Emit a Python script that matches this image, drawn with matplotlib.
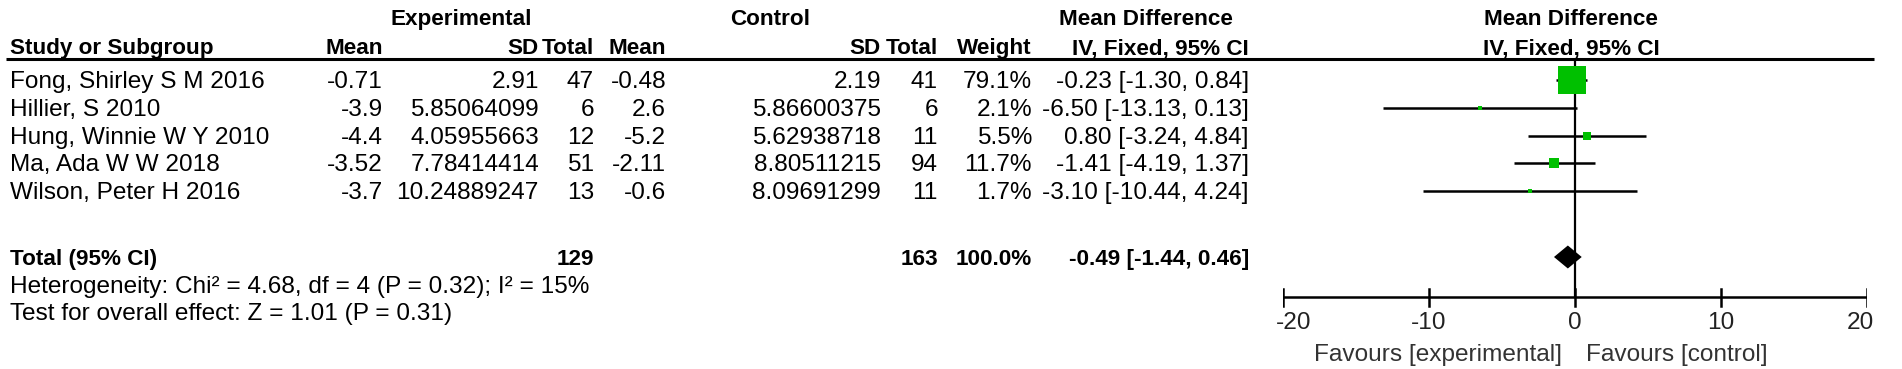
import matplotlib
matplotlib.use("Agg")
import matplotlib.pyplot as plt
import numpy as np

# ---------------- data ----------------
studies = ["Fong, Shirley S M 2016", "Hillier, S 2010", "Hung, Winnie W Y 2010",
           "Ma, Ada W W 2018", "Wilson, Peter H 2016"]
exp_mean = ["-0.71", "-3.9", "-4.4", "-3.52", "-3.7"]
exp_sd = ["2.91", "5.85064099", "4.05955663", "7.78414414", "10.24889247"]
exp_n = [47, 6, 12, 51, 13]
ctl_mean = ["-0.48", "2.6", "-5.2", "-2.11", "-0.6"]
ctl_sd = ["2.19", "5.86600375", "5.62938718", "8.80511215", "8.09691299"]
ctl_n = [41, 6, 11, 94, 11]
weights = [79.1, 2.1, 5.5, 11.7, 1.7]
md = [-0.23, -6.50, 0.80, -1.41, -3.10]
ci_lo = [-1.30, -13.13, -3.24, -4.19, -10.44]
ci_hi = [0.84, 0.13, 4.84, 1.37, 4.24]
total_exp, total_ctl = 129, 163
total_weight = 100.0
total_md, total_lo, total_hi = -0.49, -1.44, 0.46
heterogeneity = "Heterogeneity: Chi\u00b2 = 4.68, df = 4 (P = 0.32); I\u00b2 = 15%"
overall = "Test for overall effect: Z = 1.01 (P = 0.31)"
xticks = [-20, -10, 0, 10, 20]
fav_left, fav_right = "Favours [experimental]", "Favours [control]"

# ---------------- layout ----------------
W, H = 1902, 369
DPI = 100
FS = 17.6
FSB = 16.2
FONT = "Liberation Sans"
GREEN = "#00c000"

fig = plt.figure(figsize=(W / DPI, H / DPI), dpi=DPI)
ax = fig.add_axes([0, 0, 1, 1])
ax.set_xlim(0, W)
ax.set_ylim(H, 0)
ax.axis("off")

row_y = [79, 107, 135, 162, 190]
total_y = 257
het_y = 284
test_y = 311
header_line_y = 59


def txt(x, y, s, ha="left", bold=False, color="black", a=ax):
    fs = FSB if bold else FS
    cap = 0.716 * fs * DPI / 72 / 2
    a.text(x, y + cap, s, ha=ha, va="baseline", fontsize=fs, family=FONT,
           fontweight="bold" if bold else "normal", color=color)


# column right edges
c_mean_e, c_sd_e, c_n_e = 383, 539, 594
c_mean_c, c_sd_c, c_n_c = 666, 881, 938
c_w, c_ci = 1032, 1249

# headers
txt(461, 17, "Experimental", ha="center", bold=True)
txt(770, 17, "Control", ha="center", bold=True)
txt(1146, 17, "Mean Difference", ha="center", bold=True)
txt(1571, 17, "Mean Difference", ha="center", bold=True)
h2 = 46
txt(10, h2, "Study or Subgroup", bold=True)
txt(c_mean_e, h2, "Mean", ha="right", bold=True)
txt(c_sd_e, h2, "SD", ha="right", bold=True)
txt(c_n_e, h2, "Total", ha="right", bold=True)
txt(c_mean_c, h2, "Mean", ha="right", bold=True)
txt(c_sd_c, h2, "SD", ha="right", bold=True)
txt(c_n_c, h2, "Total", ha="right", bold=True)
txt(c_w, h2, "Weight", ha="right", bold=True)
txt(c_ci, h2, "IV, Fixed, 95% CI", ha="right", bold=True)
txt(1571, h2, "IV, Fixed, 95% CI", ha="center", bold=True)
ax.plot([6, 1874], [header_line_y, header_line_y], color="black", lw=2.2,
        solid_capstyle="butt")

for i, s in enumerate(studies):
    y = row_y[i]
    txt(10, y, s)
    txt(c_mean_e, y, exp_mean[i], ha="right")
    txt(c_sd_e, y, exp_sd[i], ha="right")
    txt(c_n_e, y, str(exp_n[i]), ha="right")
    txt(c_mean_c, y, ctl_mean[i], ha="right")
    txt(c_sd_c, y, ctl_sd[i], ha="right")
    txt(c_n_c, y, str(ctl_n[i]), ha="right")
    txt(c_w, y, f"{weights[i]:.1f}%", ha="right")
    txt(c_ci, y, f"{md[i]:.2f} [{ci_lo[i]:.2f}, {ci_hi[i]:.2f}]", ha="right")

txt(10, total_y, "Total (95% CI)", bold=True)
txt(c_n_e, total_y, str(total_exp), ha="right", bold=True)
txt(c_n_c, total_y, str(total_ctl), ha="right", bold=True)
txt(c_w, total_y, f"{total_weight:.1f}%", ha="right", bold=True)
txt(c_ci, total_y, f"{total_md:.2f} [{total_lo:.2f}, {total_hi:.2f}]", ha="right", bold=True)
txt(10, het_y, heterogeneity)
txt(10, test_y, overall)

# ---------------- forest panel ----------------
x_left_px, x_right_px = 1283, 1867
fax = fig.add_axes([x_left_px / W, 0, (x_right_px - x_left_px) / W, 1])
fax.set_xlim(-20, 20)
fax.set_ylim(H, 0)
fax.axis("off")

axis_y = 297
fax.plot([0, 0], [header_line_y + 1, axis_y], color="black", lw=1.6)
for i in range(len(studies)):
    side_px = max(4.0, 28.0 * np.sqrt(weights[i] / max(weights)))
    y = max(row_y[i] + 1, header_line_y + 1 + side_px / 2)
    fax.plot([ci_lo[i], ci_hi[i]], [y, y], color="black", lw=1.8, solid_capstyle="butt")
    fax.plot([md[i]], [y], marker="s", ms=side_px * 72 / DPI, color=GREEN,
             markeredgewidth=0, linestyle="none", zorder=3)

dy = 11.5
fax.fill([total_lo, total_md, total_hi, total_md],
         [total_y, total_y - dy, total_y, total_y + dy], color="black", lw=0)

fax.plot([-20, 20], [axis_y, axis_y], color="black", lw=1.8, solid_capstyle="projecting")
cap = 0.716 * FS * DPI / 72 / 2
label_shift = {-20: 0.75, 20: -0.45}
for t in xticks:
    fax.plot([t, t], [axis_y - 8, axis_y + 9], color="black", lw=1.8)
    fax.text(t + label_shift.get(t, 0.0), 320 + cap, f"{t}", ha="center", va="baseline",
             fontsize=FS, family=FONT, color="#222222")
fax.text(-0.9, 352 + cap, fav_left, ha="right", va="baseline", fontsize=FS,
         family=FONT, color="#333333")
fax.text(0.75, 352 + cap, fav_right, ha="left", va="baseline", fontsize=FS,
         family=FONT, color="#333333")

fig.savefig("out.png", dpi=DPI, facecolor="white")
